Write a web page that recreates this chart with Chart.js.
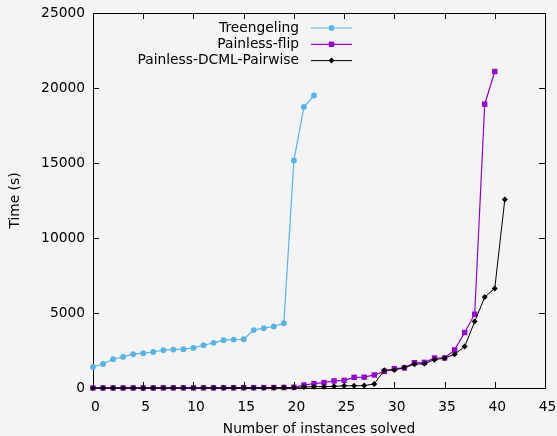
<!DOCTYPE html>
<html>
<head>
<meta charset="utf-8">
<script src="https://cdn.jsdelivr.net/npm/chart.js@4/dist/chart.umd.min.js"></script>
<style>
  html, body { margin: 0; padding: 0; background: #f4f4f4; }
  #wrap { width: 557px; height: 436px; }
</style>
</head>
<body>
<div id="wrap"><canvas id="chart" width="557" height="436"></canvas></div>
<script>
const xTicks = [0, 5, 10, 15, 20, 25, 30, 35, 40, 45];
const yTicks = [0, 5000, 10000, 15000, 20000, 25000];

// time (s) for the n-th solved instance, n = 0, 1, 2, ...
const treengeling = [
  1400, 1600, 1920, 2070, 2250, 2320, 2400, 2520, 2560, 2590,
  2670, 2850, 3010, 3190, 3230, 3250, 3860, 3990, 4100, 4320,
  15170, 18740, 19500
];
const painlessFlip = [
  3, 4, 5, 6, 7, 8, 9, 10, 11, 12,
  13, 14, 15, 17, 19, 21, 23, 26, 30, 35,
  50, 200, 290, 360, 470, 510, 710, 720, 870, 1110,
  1290, 1340, 1690, 1710, 2000, 2000, 2540, 3700, 4920, 18920,
  21100
];
const painlessDcml = [
  2, 3, 4, 5, 6, 7, 8, 9, 10, 11,
  12, 13, 14, 15, 16, 18, 20, 22, 25, 28,
  30, 70, 86, 90, 110, 150, 150, 160, 270, 1180,
  1200, 1360, 1580, 1620, 1890, 2000, 2250, 2760, 4430, 6060,
  6640, 12570
];

const FONT = { family: "'DejaVu Sans', sans-serif", size: 13.8 };

function toPoints(values) {
  return values.map((v, i) => ({ x: i, y: v }));
}

const framePlugin = {
  id: "frame",
  beforeDraw(chart) {
    const ctx = chart.ctx;
    ctx.save();
    ctx.fillStyle = "#f4f4f4";
    ctx.fillRect(0, 0, chart.width, chart.height);
    ctx.restore();
  },
  beforeDatasetsDraw(chart) {
    const { ctx, chartArea: a, scales } = chart;
    ctx.save();
    ctx.strokeStyle = "#000";
    ctx.lineWidth = 1;
    ctx.strokeRect(a.left + 0.5, a.top + 0.5, a.right - a.left, a.bottom - a.top);
    ctx.beginPath();
    xTicks.forEach((v) => {
      const px = Math.round(scales.x.getPixelForValue(v)) + 0.5;
      ctx.moveTo(px, a.bottom);
      ctx.lineTo(px, a.bottom - 6);
      ctx.moveTo(px, a.top);
      ctx.lineTo(px, a.top + 6);
    });
    yTicks.forEach((v) => {
      const py = Math.round(scales.y.getPixelForValue(v)) + 0.5;
      ctx.moveTo(a.left, py);
      ctx.lineTo(a.left + 6, py);
      ctx.moveTo(a.right, py);
      ctx.lineTo(a.right - 6, py);
    });
    ctx.stroke();
    ctx.restore();
  },
  afterDraw(chart) {
    // gnuplot style key: text right aligned, line sample with marker to its right
    const ctx = chart.ctx;
    const textRight = 299, lineL = 311, lineR = 352, rowTop = 28, rowGap = 16.3;
    ctx.save();
    ctx.font = FONT.size + "px " + FONT.family;
    ctx.textAlign = "right";
    ctx.textBaseline = "middle";
    chart.data.datasets.forEach((ds, i) => {
      const yy = rowTop + i * rowGap;
      ctx.fillStyle = "#000";
      ctx.fillText(ds.label, textRight, yy);
      ctx.strokeStyle = ds.borderColor;
      ctx.lineWidth = ds.borderWidth;
      ctx.beginPath();
      ctx.moveTo(lineL, yy);
      ctx.lineTo(lineR, yy);
      ctx.stroke();
      ctx.fillStyle = ds.pointBackgroundColor;
      ctx.strokeStyle = ds.pointBorderColor;
      Chart.helpers.drawPoint(ctx, {
        pointStyle: ds.pointStyle,
        radius: ds.pointRadius,
        borderWidth: 0,
        rotation: 0,
      }, (lineL + lineR) / 2, yy);
    });
    ctx.restore();
  },
};

const config = {
  type: "line",
  data: {
    datasets: [
      {
        label: "Treengeling",
        data: toPoints(treengeling),
        borderColor: "#56b4e9",
        backgroundColor: "#56b4e9",
        pointBackgroundColor: "#56b4e9",
        pointBorderColor: "#56b4e9",
        borderWidth: 1.2,
        pointStyle: "circle",
        pointRadius: 2.9,
        pointBorderWidth: 0,
        order: 2,
      },
      {
        label: "Painless-flip",
        data: toPoints(painlessFlip),
        borderColor: "#9400d3",
        backgroundColor: "#9400d3",
        pointBackgroundColor: "#9400d3",
        pointBorderColor: "#9400d3",
        borderWidth: 1.2,
        pointStyle: "rect",
        pointRadius: 3.8,
        pointBorderWidth: 0,
        order: 1,
      },
      {
        label: "Painless-DCML-Pairwise",
        data: toPoints(painlessDcml),
        borderColor: "#000000",
        backgroundColor: "#000000",
        pointBackgroundColor: "#000000",
        pointBorderColor: "#000000",
        borderWidth: 1,
        pointStyle: "rectRot",
        pointRadius: 3,
        pointBorderWidth: 0,
        order: 0,
      },
    ],
  },
  options: {
    responsive: false,
    animation: false,
    events: [],
    clip: false,
    layout: { padding: { top: 13, right: 12, left: 0, bottom: 0 } },
    elements: { line: { tension: 0, fill: false } },
    plugins: {
      legend: { display: false },
      tooltip: { enabled: false },
    },
    scales: {
      x: {
        type: "linear",
        min: 0,
        max: 45,
        afterBuildTicks: (s) => { s.ticks = xTicks.map((v) => ({ value: v })); },
        afterFit: (s) => {
          s.height = 48;
          s.paddingLeft = 0;
          s.paddingRight = 0;
        },
        grid: { display: false, drawTicks: false },
        border: { display: false },
        ticks: {
          color: "#000", font: FONT, padding: 11, labelOffset: 2.5,
          maxRotation: 0, autoSkip: false,
          callback: (v) => String(v),
        },
        title: {
          display: true,
          text: "Number of instances solved",
          color: "#000",
          font: FONT,
          padding: { top: 0, bottom: -1.5 },
        },
      },
      y: {
        type: "linear",
        min: 0,
        max: 25000,
        afterBuildTicks: (s) => { s.ticks = yTicks.map((v) => ({ value: v })); },
        afterFit: (s) => {
          s.width = 93;
          s.paddingTop = 0;
          s.paddingBottom = 0;
        },
        grid: { display: false, drawTicks: false },
        border: { display: false },
        ticks: { color: "#000", font: FONT, padding: 8, callback: (v) => String(v) },
        title: {
          display: true,
          text: "Time (s)",
          color: "#000",
          font: FONT,
          padding: { top: 7, bottom: 0 },
        },
      },
    },
  },
  plugins: [framePlugin],
};

new Chart(document.getElementById("chart"), config);
</script>
</body>
</html>
